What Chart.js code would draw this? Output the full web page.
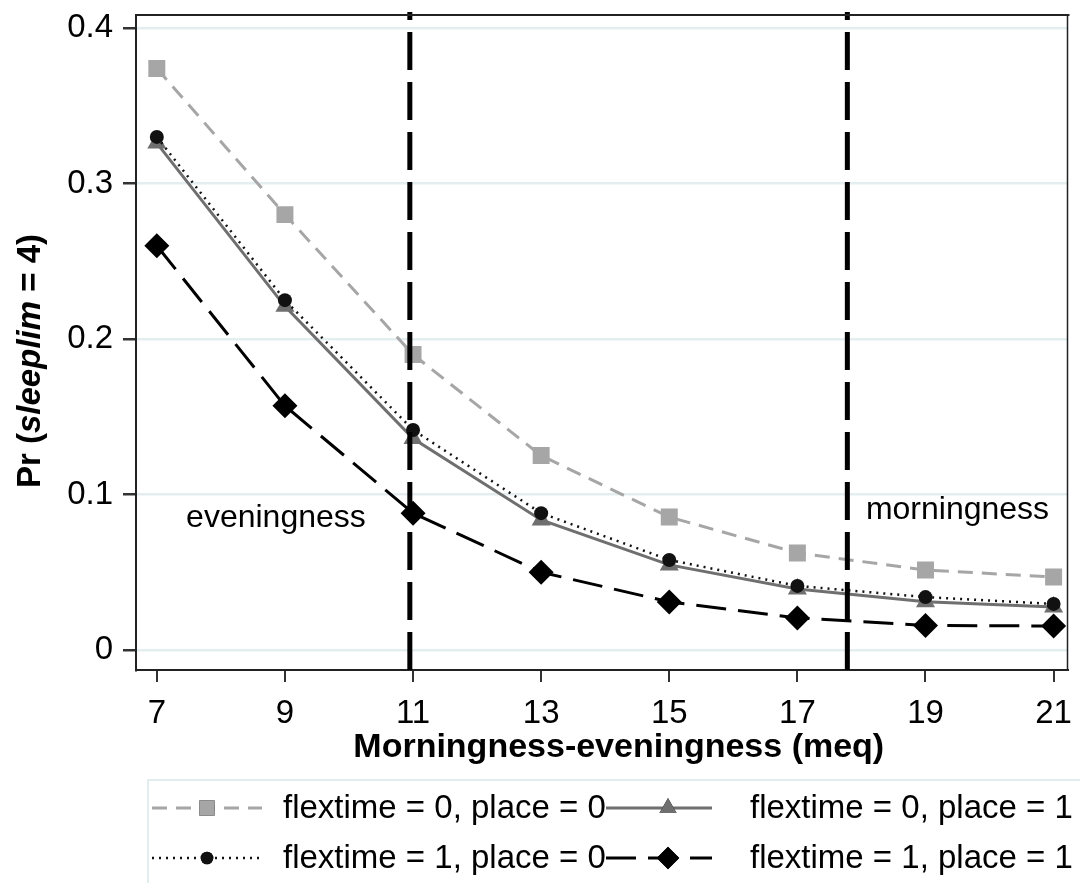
<!DOCTYPE html>
<html><head><meta charset="utf-8">
<script src="https://cdn.jsdelivr.net/npm/chart.js@4.4.1/dist/chart.umd.min.js"></script>
<style>html,body{margin:0;padding:0;background:#fff;} #wrap{position:relative;width:1080px;height:883px;}</style>
</head><body><div id="wrap"><canvas id="c" width="1080" height="883"></canvas></div>
<script>
// ---- data ----
const meq = [7, 9, 11, 13, 15, 17, 19, 21];
const xTickLabels = ['7', '9', '11', '13', '15', '17', '19', '21'];
const yTickValues = [0, 0.1, 0.2, 0.3, 0.4];
const yTickLabels = ['0', '0.1', '0.2', '0.3', '0.4'];
const seriesLabels = ['flextime = 0, place = 0', 'flextime = 0, place = 1', 'flextime = 1, place = 0', 'flextime = 1, place = 1'];
const flex0place0 = [0.374, 0.280, 0.190, 0.125, 0.0855, 0.0624, 0.0514, 0.0469];
const flex0place1 = [0.326, 0.221, 0.136, 0.0836, 0.0547, 0.0392, 0.031, 0.0277];
const flex1place0 = [0.330, 0.225, 0.1415, 0.088, 0.0579, 0.0412, 0.034, 0.0296];
const flex1place1 = [0.260, 0.157, 0.088, 0.050, 0.0309, 0.0206, 0.0158, 0.0154];
const cutoffs = [10.95, 17.78];
const regionLabels = ['eveningness', 'morningness'];

const FONT = "'Liberation Sans', Arial, sans-serif";
const Y_MIN = -0.0129, Y_MAX = 0.4084;

function pts(vals) { return meq.map((x, i) => ({x: x, y: vals[i]})); }

const seriesStyles = [
  {color: '#a6a6a6', dash: [15, 9], width: 3, point: 'rect', radius: 12},
  {color: '#6f6f6f', dash: [], width: 3, point: 'triangle', radius: 11},
  {color: '#111111', dash: [2, 5], width: 2.5, point: 'circle', radius: 7},
  {color: '#000000', dash: [30, 12], width: 3, point: 'rectRot', radius: 12.5}
];
const seriesValues = [flex0place0, flex0place1, flex1place0, flex1place1];
const drawOrder = [3, 2, 1, 4];

const datasets = seriesValues.map((vals, i) => ({
  label: seriesLabels[i],
  data: pts(vals),
  borderColor: seriesStyles[i].color,
  backgroundColor: seriesStyles[i].color,
  borderWidth: seriesStyles[i].width,
  borderDash: seriesStyles[i].dash,
  pointStyle: seriesStyles[i].point,
  pointRadius: seriesStyles[i].radius,
  pointBorderWidth: 0,
  pointBackgroundColor: seriesStyles[i].color,
  tension: 0,
  fill: false,
  order: drawOrder[i]
}));
cutoffs.forEach(c => datasets.push({
  label: 'cutoff',
  data: [{x: c, y: Y_MIN}, {x: c, y: Y_MAX + 0.002}],
  borderColor: '#000',
  borderWidth: 5,
  borderDash: [38, 12],
  pointRadius: 0,
  fill: false,
  clip: false,
  order: 0
}));

const decorPlugin = {
  id: 'decor',
  afterDraw(chart) {
    const ctx = chart.ctx, a = chart.chartArea;
    const xs = chart.scales.x, ys = chart.scales.y;
    ctx.save();
    // frame top/right
    ctx.strokeStyle = '#222'; ctx.lineWidth = 2;
    ctx.beginPath(); ctx.moveTo(a.left, a.top); ctx.lineTo(a.right + 2, a.top); ctx.stroke();
    ctx.lineWidth = 1.5;
    ctx.beginPath(); ctx.moveTo(a.right, a.top); ctx.lineTo(a.right, a.bottom); ctx.stroke();
    // region labels
    ctx.fillStyle = '#000';
    ctx.font = '32px ' + FONT;
    ctx.textAlign = 'center'; ctx.textBaseline = 'middle';
    ctx.fillText(regionLabels[0], xs.getPixelForValue(8.86), ys.getPixelForValue(0.085));
    ctx.fillText(regionLabels[1], xs.getPixelForValue(19.5), ys.getPixelForValue(0.090));
    // x title
    ctx.font = 'bold 34px ' + FONT;
    ctx.fillText('Morningness-eveningness (meq)', (a.left + a.right) / 2 + 17, 748);
    // y title
    ctx.translate(31, 361); ctx.rotate(-Math.PI / 2);
    const parts = [['Pr (', 'bold 33px ' + FONT], ['sleeplim', 'italic bold 33px ' + FONT], [' = 4)', 'bold 33px ' + FONT]];
    let total = 0;
    parts.forEach(p => { ctx.font = p[1]; total += ctx.measureText(p[0]).width; });
    let px = -total / 2;
    ctx.textAlign = 'left';
    parts.forEach(p => { ctx.font = p[1]; ctx.fillText(p[0], px, 0); px += ctx.measureText(p[0]).width; });
    ctx.restore();

    // legend
    ctx.save();
    ctx.strokeStyle = '#e3ecef'; ctx.lineWidth = 2;
    ctx.strokeRect(148, 780, 940, 120);
    const cols = [{s0: 152, s1: 262, m: 207, t: 283}, {s0: 606, s1: 712, m: 668, t: 750}];
    const rows = [808, 858];
    const layout = [[0, 0], [1, 0], [0, 1], [1, 1]];
    layout.forEach((pos, i) => {
      const c = cols[pos[0]], y = rows[pos[1]], st = seriesStyles[i];
      ctx.strokeStyle = st.color; ctx.lineWidth = st.width; ctx.setLineDash(st.dash);
      ctx.beginPath(); ctx.moveTo(c.s0, y); ctx.lineTo(c.s1, y); ctx.stroke();
      ctx.setLineDash([]);
      Chart.helpers.drawPoint(ctx, {pointStyle: st.point, radius: st.radius * 0.9, borderWidth: 0, rotation: 0}, c.m, y);
      ctx.fillStyle = st.color; ctx.fill();
      ctx.fillStyle = '#000'; ctx.font = '33px ' + FONT;
      ctx.textAlign = 'left'; ctx.textBaseline = 'middle';
      ctx.fillText(seriesLabels[i], c.t, y + 1);
    });
    ctx.restore();
  }
};

new Chart(document.getElementById('c'), {
  type: 'line',
  data: {datasets: datasets},
  options: {
    responsive: false,
    animation: false,
    layout: {padding: {left: 0, top: 15, right: 5, bottom: 153}},
    plugins: {legend: {display: false}, tooltip: {enabled: false}},
    scales: {
      x: {
        type: 'linear', min: 6.675, max: 21.217,
        afterBuildTicks: s => { s.ticks = meq.map(v => ({value: v})); },
        afterFit: s => { s.height = 60; s.paddingLeft = 0; s.paddingRight = 0; },
        ticks: {callback: (v, i) => xTickLabels[i], font: {size: 33, family: FONT}, color: '#000', padding: 12, maxRotation: 0, autoSkip: false},
        grid: {drawOnChartArea: false, tickColor: '#333', tickLength: 12, lineWidth: 2},
        border: {display: true, color: '#222', width: 2}
      },
      y: {
        type: 'linear', min: Y_MIN, max: Y_MAX,
        afterBuildTicks: s => { s.ticks = yTickValues.map(v => ({value: v})); },
        afterFit: s => { s.width = 136; s.paddingTop = 0; s.paddingBottom = 0; },
        ticks: {callback: (v, i) => yTickLabels[i], font: {size: 33, family: FONT}, color: '#000', padding: 10, autoSkip: false},
        grid: {color: '#e4edf0', lineWidth: 2.5, tickColor: '#333', tickLength: 13},
        border: {display: true, color: '#222', width: 2}
      }
    }
  },
  plugins: [decorPlugin]
});
</script></body></html>
